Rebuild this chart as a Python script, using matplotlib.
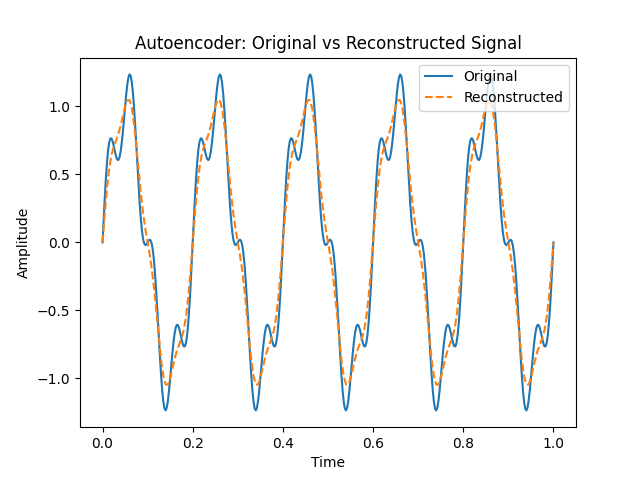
import numpy as np
import matplotlib
matplotlib.use('Agg')
import matplotlib.pyplot as plt

# original signal, read every 0.0025 in time (4 rows = one 0.2 cycle)
original = [
    0.000, 0.171, 0.333, 0.476, 0.594, 0.683, 0.739, 0.765, 0.764, 0.742, 0.707, 0.668, 0.633, 0.610, 0.606, 0.624, 0.666, 0.730, 0.811, 0.904,
    1.000, 1.090, 1.164, 1.215, 1.236, 1.224, 1.176, 1.095, 0.985, 0.853, 0.707, 0.557, 0.412, 0.280, 0.169, 0.083, 0.024, -0.009, -0.020, -0.014,
    0.000, 0.014, 0.020, 0.009, -0.024, -0.083, -0.169, -0.280, -0.412, -0.557, -0.707, -0.853, -0.985, -1.095, -1.176, -1.224, -1.236, -1.215, -1.164, -1.090,
    -1.000, -0.904, -0.811, -0.730, -0.666, -0.624, -0.606, -0.610, -0.633, -0.668, -0.707, -0.742, -0.764, -0.765, -0.739, -0.683, -0.594, -0.476, -0.333, -0.171,
    0.000, 0.171, 0.333, 0.476, 0.594, 0.683, 0.739, 0.765, 0.764, 0.742, 0.707, 0.668, 0.633, 0.610, 0.606, 0.624, 0.666, 0.730, 0.811, 0.904,
    1.000, 1.090, 1.164, 1.215, 1.236, 1.224, 1.176, 1.095, 0.985, 0.853, 0.707, 0.557, 0.412, 0.280, 0.169, 0.083, 0.024, -0.009, -0.020, -0.014,
    0.000, 0.014, 0.020, 0.009, -0.024, -0.083, -0.169, -0.280, -0.412, -0.557, -0.707, -0.853, -0.985, -1.095, -1.176, -1.224, -1.236, -1.215, -1.164, -1.090,
    -1.000, -0.904, -0.811, -0.730, -0.666, -0.624, -0.606, -0.610, -0.633, -0.668, -0.707, -0.742, -0.764, -0.765, -0.739, -0.683, -0.594, -0.476, -0.333, -0.171,
    0.000, 0.171, 0.333, 0.476, 0.594, 0.683, 0.739, 0.765, 0.764, 0.742, 0.707, 0.668, 0.633, 0.610, 0.606, 0.624, 0.666, 0.730, 0.811, 0.904,
    1.000, 1.090, 1.164, 1.215, 1.236, 1.224, 1.176, 1.095, 0.985, 0.853, 0.707, 0.557, 0.412, 0.280, 0.169, 0.083, 0.024, -0.009, -0.020, -0.014,
    0.000, 0.014, 0.020, 0.009, -0.024, -0.083, -0.169, -0.280, -0.412, -0.557, -0.707, -0.853, -0.985, -1.095, -1.176, -1.224, -1.236, -1.215, -1.164, -1.090,
    -1.000, -0.904, -0.811, -0.730, -0.666, -0.624, -0.606, -0.610, -0.633, -0.668, -0.707, -0.742, -0.764, -0.765, -0.739, -0.683, -0.594, -0.476, -0.333, -0.171,
    0.000, 0.171, 0.333, 0.476, 0.594, 0.683, 0.739, 0.765, 0.764, 0.742, 0.707, 0.668, 0.633, 0.610, 0.606, 0.624, 0.666, 0.730, 0.811, 0.904,
    1.000, 1.090, 1.164, 1.215, 1.236, 1.224, 1.176, 1.095, 0.985, 0.853, 0.707, 0.557, 0.412, 0.280, 0.169, 0.083, 0.024, -0.009, -0.020, -0.014,
    0.000, 0.014, 0.020, 0.009, -0.024, -0.083, -0.169, -0.280, -0.412, -0.557, -0.707, -0.853, -0.985, -1.095, -1.176, -1.224, -1.236, -1.215, -1.164, -1.090,
    -1.000, -0.904, -0.811, -0.730, -0.666, -0.624, -0.606, -0.610, -0.633, -0.668, -0.707, -0.742, -0.764, -0.765, -0.739, -0.683, -0.594, -0.476, -0.333, -0.171,
    0.000, 0.171, 0.333, 0.476, 0.594, 0.683, 0.739, 0.765, 0.764, 0.742, 0.707, 0.668, 0.633, 0.610, 0.606, 0.624, 0.666, 0.730, 0.811, 0.904,
    1.000, 1.090, 1.164, 1.215, 1.236, 1.224, 1.176, 1.095, 0.985, 0.853, 0.707, 0.557, 0.412, 0.280, 0.169, 0.083, 0.024, -0.009, -0.020, -0.014,
    0.000, 0.014, 0.020, 0.009, -0.024, -0.083, -0.169, -0.280, -0.412, -0.557, -0.707, -0.853, -0.985, -1.095, -1.176, -1.224, -1.236, -1.215, -1.164, -1.090,
    -1.000, -0.904, -0.811, -0.730, -0.666, -0.624, -0.606, -0.610, -0.633, -0.668, -0.707, -0.742, -0.764, -0.765, -0.739, -0.683, -0.594, -0.476, -0.333, -0.171,
    0.000,
]

# reconstructed signal, read every 0.005 in time (one row = one 0.2 cycle)
reconstructed = [
    0.000, 0.215, 0.404, 0.549, 0.647, 0.707, 0.750, 0.796, 0.856, 0.929, 1.000, 1.046, 1.046, 0.986, 0.868, 0.707, 0.529, 0.359, 0.214, 0.098,
    0.000, -0.098, -0.214, -0.359, -0.529, -0.707, -0.868, -0.986, -1.046, -1.046, -1.000, -0.929, -0.856, -0.796, -0.750, -0.707, -0.647, -0.549, -0.404, -0.215,
    0.000, 0.215, 0.404, 0.549, 0.647, 0.707, 0.750, 0.796, 0.856, 0.929, 1.000, 1.046, 1.046, 0.986, 0.868, 0.707, 0.529, 0.359, 0.214, 0.098,
    0.000, -0.098, -0.214, -0.359, -0.529, -0.707, -0.868, -0.986, -1.046, -1.046, -1.000, -0.929, -0.856, -0.796, -0.750, -0.707, -0.647, -0.549, -0.404, -0.215,
    0.000, 0.215, 0.404, 0.549, 0.647, 0.707, 0.750, 0.796, 0.856, 0.929, 1.000, 1.046, 1.046, 0.986, 0.868, 0.707, 0.529, 0.359, 0.214, 0.098,
    0.000, -0.098, -0.214, -0.359, -0.529, -0.707, -0.868, -0.986, -1.046, -1.046, -1.000, -0.929, -0.856, -0.796, -0.750, -0.707, -0.647, -0.549, -0.404, -0.215,
    0.000, 0.215, 0.404, 0.549, 0.647, 0.707, 0.750, 0.796, 0.856, 0.929, 1.000, 1.046, 1.046, 0.986, 0.868, 0.707, 0.529, 0.359, 0.214, 0.098,
    0.000, -0.098, -0.214, -0.359, -0.529, -0.707, -0.868, -0.986, -1.046, -1.046, -1.000, -0.929, -0.856, -0.796, -0.750, -0.707, -0.647, -0.549, -0.404, -0.215,
    0.000, 0.215, 0.404, 0.549, 0.647, 0.707, 0.750, 0.796, 0.856, 0.929, 1.000, 1.046, 1.046, 0.986, 0.868, 0.707, 0.529, 0.359, 0.214, 0.098,
    0.000, -0.098, -0.214, -0.359, -0.529, -0.707, -0.868, -0.986, -1.046, -1.046, -1.000, -0.929, -0.856, -0.796, -0.750, -0.707, -0.647, -0.549, -0.404, -0.215,
    0.000,
]

t_orig = np.linspace(0, 1, len(original))
t_rec = np.linspace(0, 1, len(reconstructed))

plt.figure(figsize=(6.4, 4.8), dpi=100)
plt.plot(t_orig, original, label='Original')
plt.plot(t_rec, reconstructed, '--', label='Reconstructed')
plt.title('Autoencoder: Original vs Reconstructed Signal')
plt.xlabel('Time')
plt.ylabel('Amplitude')
plt.legend(loc='upper right')
plt.savefig('out.png')
